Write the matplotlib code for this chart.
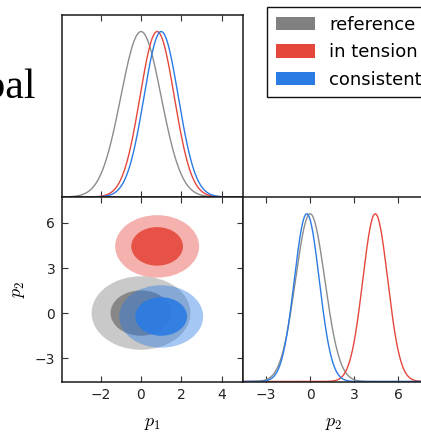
import numpy as np
import matplotlib
matplotlib.use("Agg")
import matplotlib.pyplot as plt
from matplotlib.patches import Ellipse, Patch

# ---- data ----
series_names = ["reference", "in tension", "consistent"]
series_colors = ["#808080", "#e5473d", "#2a7be4"]
line_colors = ["#8c8c8c", "#e5473d", "#2a7be4"]
mean_p1 = [0.0, 0.8, 1.0]
mean_p2 = [0.0, 4.44, -0.23]
sigma_p1 = [1.0, 0.85, 0.85]
sigma_p2 = [1.0, 0.85, 0.85]
contour_mass = [0.68, 0.95]
p1_ticks = [-2, 0, 2, 4]
p2_ticks = [-3, 0, 3, 6]
p1_lim = (-3.9, 5.07)
p2_lim = (-4.56, 7.73)

plt.rcParams['mathtext.fontset'] = 'cm'
plt.rcParams['font.family'] = ['DejaVu Sans']

W, H = 421, 432
fig = plt.figure(figsize=(W / 100, H / 100), dpi=100)

def px_axes(x0, y0, x1, y1):
    return fig.add_axes([x0 / W, 1 - y1 / H, (x1 - x0) / W, (y1 - y0) / H])

ax_top = px_axes(62.3, 15, 243.3, 197)
ax_2d = px_axes(62.3, 197, 243.3, 381.5)
ax_br = px_axes(243.3, 197, 423.5, 381.5)

for ax in (ax_top, ax_2d, ax_br):
    for s in ax.spines.values():
        s.set_linewidth(1.1)
        s.set_color('#1a1a1a')
    ax.tick_params(direction='in', length=4, width=0.8, color='#333333',
                   labelsize=10, pad=5, labelcolor='#222222')

# 1D marginals
def gauss(x, m, s):
    return np.exp(-0.5 * ((x - m) / s) ** 2)

x1 = np.linspace(p1_lim[0], p1_lim[1], 600)
x2 = np.linspace(p2_lim[0], p2_lim[1], 600)
for c, m1, m2, s1, s2 in zip(line_colors, mean_p1, mean_p2, sigma_p1, sigma_p2):
    ax_top.plot(x1, gauss(x1, m1, s1), color=c, lw=1.0)
    ax_br.plot(x2, gauss(x2, m2, s2), color=c, lw=1.0)

# 2D contours (Gaussian mass levels)
alphas = [0.42, 0.9]
for c, m1, m2, s1, s2 in zip(series_colors, mean_p1, mean_p2, sigma_p1, sigma_p2):
    for mass, a in zip(sorted(contour_mass, reverse=True), alphas):
        r = np.sqrt(-2 * np.log(1 - mass))
        e = Ellipse((m1, m2), 2 * r * s1, 2 * r * s2, facecolor=c, edgecolor='none', alpha=a)
        ax_2d.add_patch(e)

ax_top.set_xlim(*p1_lim)
ax_top.set_ylim(0, 1.1)
ax_top.set_xticks(p1_ticks)
ax_top.set_yticks([])
ax_top.tick_params(axis='x', top=True, bottom=True, labelbottom=False)

ax_2d.set_xlim(*p1_lim)
ax_2d.set_ylim(*p2_lim)
ax_2d.set_xticks(p1_ticks)
ax_2d.set_yticks(p2_ticks)
ax_2d.tick_params(top=True, right=True)
ax_2d.set_xlabel(r'$p_1$', fontsize=13, labelpad=8)
ax_2d.set_ylabel(r'$p_2$', fontsize=13, labelpad=6)

ax_br.set_xlim(*p2_lim)
ax_br.set_ylim(0, 1.1)
ax_br.set_xticks(p2_ticks)
ax_br.set_yticks([])
ax_br.tick_params(axis='x', top=True, bottom=True)
ax_br.set_xlabel(r'$p_2$', fontsize=13, labelpad=8)

handles = [Patch(facecolor=c, edgecolor='none') for c in series_colors]
fig.legend(handles, series_names, loc='upper left',
           bbox_to_anchor=(267.3 / W, 1 - 7.3 / H), bbox_transform=fig.transFigure,
           borderaxespad=0, fontsize=13, handlelength=2.15, handleheight=0.78,
           labelspacing=0.52, handletextpad=0.8, borderpad=0.48,
           fancybox=False, framealpha=1, edgecolor='#111111')

fig.text(36 / W, 1 - 98 / H, 'Global', family='Liberation Serif', fontsize=30,
         ha='right', va='baseline', color='black')

fig.savefig('out.png', dpi=100)
